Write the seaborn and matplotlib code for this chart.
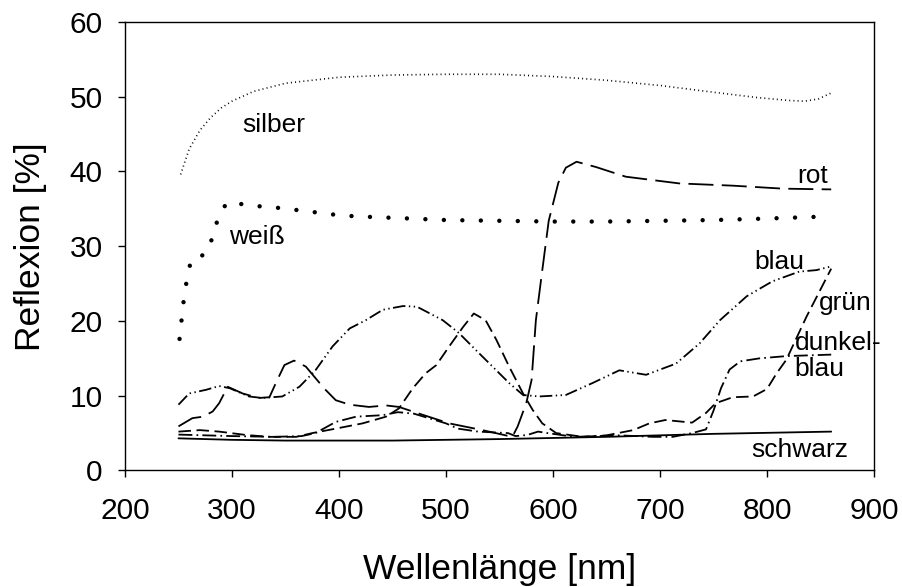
import matplotlib
matplotlib.use("Agg")
import matplotlib.pyplot as plt
import seaborn as sns

wl_silber = [252, 260, 270, 280, 290, 300, 320, 350, 400, 450, 500, 550, 600,
             650, 700, 750, 790, 820, 835, 848, 860]
silber = [39.6, 43.0, 45.5, 47.2, 48.5, 49.4, 50.7, 51.8, 52.6, 52.9, 53.0, 53.0,
          52.7, 52.2, 51.5, 50.6, 49.9, 49.5, 49.4, 49.7, 50.5]

wl_weiss = [251, 253, 255, 258, 262, 275, 282, 287, 295, 312, 328, 346, 363, 380,
            397, 415, 450, 500, 550, 600, 650, 700, 750, 800, 860]
weiss = [17.6, 20.3, 22.9, 25.7, 28.3, 28.9, 31.2, 33.8, 35.8, 35.6, 35.3, 35.1,
         34.8, 34.5, 34.2, 34.0, 33.8, 33.5, 33.4, 33.3, 33.3, 33.4, 33.5, 33.7, 34.0]

wl_rot = [250, 263, 273, 282, 288, 296, 310, 325, 335, 341, 349, 358, 369, 386,
          397, 410, 428, 444, 456, 475, 503, 534, 562, 567, 575, 580, 584, 590,
          596, 605, 612, 622, 640, 668, 718, 768, 815, 860]
rot = [5.9, 7.0, 7.2, 7.9, 9.0, 11.2, 10.3, 9.7, 9.8, 11.7, 14.1, 14.7, 13.9, 11.0,
       9.4, 8.8, 8.5, 8.7, 8.5, 7.6, 6.3, 5.4, 4.5, 5.9, 9.0, 12.1, 20.1, 26.8,
       33.4, 38.5, 40.5, 41.3, 40.6, 39.3, 38.4, 38.1, 37.7, 37.6]

wl_blau = [250, 260, 276, 288, 298, 316, 328, 347, 363, 378, 394, 410, 425, 441,
           460, 473, 497, 512, 528, 547, 559, 572, 587, 612, 637, 662, 687, 715,
           737, 756, 781, 805, 830, 846, 860]
blau = [8.8, 10.3, 10.8, 11.3, 11.0, 9.9, 9.7, 9.9, 11.2, 13.4, 16.6, 19.0, 20.1,
        21.5, 22.0, 21.9, 20.1, 18.4, 16.1, 13.4, 11.7, 10.1, 9.9, 10.1, 11.7,
        13.4, 12.8, 14.3, 17.0, 20.1, 23.3, 25.3, 26.6, 26.8, 27.3]

wl_gruen = [250, 270, 288, 313, 335, 360, 375, 397, 422, 444, 456, 469, 481, 491,
            503, 516, 526, 537, 547, 559, 572, 581, 590, 603, 628, 650, 675, 690,
            705, 730, 743, 752, 768, 787, 800, 809, 818, 837, 860]
gruen = [5.2, 5.4, 5.2, 4.75, 4.5, 4.5, 5.0, 5.6, 6.3, 7.2, 8.3, 11.0, 13.0, 14.1,
         16.6, 19.2, 21.0, 20.1, 17.5, 13.9, 10.3, 8.1, 6.3, 5.0, 4.5, 4.7, 5.4,
         6.3, 6.75, 6.4, 7.7, 9.0, 9.8, 9.9, 10.9, 13.0, 14.8, 20.6, 27.0]

wl_dunkelblau = [250, 300, 340, 365, 378, 397, 416, 441, 455, 470, 500, 511, 530,
                 558, 565, 576, 586, 595, 620, 662, 693, 712, 730, 743, 750, 757,
                 765, 775, 793, 818, 860]
dunkelblau = [4.8, 4.6, 4.5, 4.6, 5.0, 6.5, 7.2, 7.4, 7.8, 7.6, 6.3, 5.6, 5.2,
              5.0, 4.6, 4.75, 5.2, 5.0, 4.5, 4.7, 4.5, 4.5, 5.0, 5.5, 8.0, 11.0,
              13.5, 14.6, 15.0, 15.3, 15.5]

wl_schwarz = [250, 300, 350, 450, 550, 650, 750, 860]
schwarz = [4.3, 4.1, 4.0, 4.0, 4.2, 4.5, 4.9, 5.2]

# --- Stil ---
sns.set_style("ticks")
plt.rcParams['font.family'] = ['Liberation Sans', 'DejaVu Sans']
plt.rcParams['lines.scale_dashes'] = False
plt.rcParams['text.color'] = 'black'
plt.rcParams['axes.labelcolor'] = 'black'

fig = plt.figure(figsize=(9.03, 5.87), dpi=100)
ax = fig.add_axes([0.1384, 0.1985, 0.8295, 0.7641])

# Kurven (alle schwarz, nur Linienart unterschiedlich)
lw = 1.3
sns.lineplot(x=wl_silber, y=silber, ax=ax, color='black', linewidth=1.2,
             linestyle=(0, (0.7, 2.3)), errorbar=None)
sns.lineplot(x=wl_weiss, y=weiss, ax=ax, color='black', linewidth=3.2,
             linestyle=(0, (0.01, 13.3)), dash_capstyle='round', errorbar=None)
sns.lineplot(x=wl_rot, y=rot, ax=ax, color='black', linewidth=lw,
             linestyle=(0, (18, 6)), errorbar=None)
sns.lineplot(x=wl_blau, y=blau, ax=ax, color='black', linewidth=lw,
             linestyle=(0, (9, 2.5, 1, 2.5, 1, 2.5)), errorbar=None)
sns.lineplot(x=wl_gruen, y=gruen, ax=ax, color='black', linewidth=lw,
             linestyle=(0, (9, 4)), errorbar=None)
sns.lineplot(x=wl_dunkelblau, y=dunkelblau, ax=ax, color='black', linewidth=lw,
             linestyle=(0, (10, 3, 1.2, 3)), errorbar=None)
sns.lineplot(x=wl_schwarz, y=schwarz, ax=ax, color='black', linewidth=lw,
             linestyle='-', errorbar=None)

# Beschriftung der Kurven
lab_size = 19
ax.text(309.7, 46.2, 'silber', fontsize=lab_size, ha='left', va='center')
ax.text(297, 31.2, 'weiß', fontsize=lab_size, ha='left', va='center')
ax.text(828, 39.4, 'rot', fontsize=lab_size, ha='left', va='center')
ax.text(788, 27.9, 'blau', fontsize=lab_size, ha='left', va='center')
ax.text(848.5, 22.4, 'grün', fontsize=lab_size, ha='left', va='center')
ax.text(825.7, 17.1, 'dunkel-', fontsize=lab_size, ha='left', va='center')
ax.text(825.7, 13.6, 'blau', fontsize=lab_size, ha='left', va='center')
ax.text(785, 2.7, 'schwarz', fontsize=lab_size, ha='left', va='center')

# Achsen
ax.set_xlim(200, 900)
ax.set_ylim(0, 60)
ax.set_xticks(range(200, 901, 100))
ax.set_yticks(range(0, 61, 10))
ax.tick_params(axis='both', direction='out', length=5, width=1, labelsize=21.5,
               colors='black')
ax.tick_params(axis='x', pad=14)
ax.tick_params(axis='y', pad=11)
ax.set_xlabel('Wellenlänge [nm]', fontsize=25.5, labelpad=20)
ax.set_ylabel('Reflexion [%]', fontsize=25.5, labelpad=16)
for side in ['top', 'right', 'left', 'bottom']:
    ax.spines[side].set_visible(True)
    ax.spines[side].set_color('black')
    ax.spines[side].set_linewidth(1.0)

fig.savefig('out.png', dpi=100, facecolor='white')
plt.close()
